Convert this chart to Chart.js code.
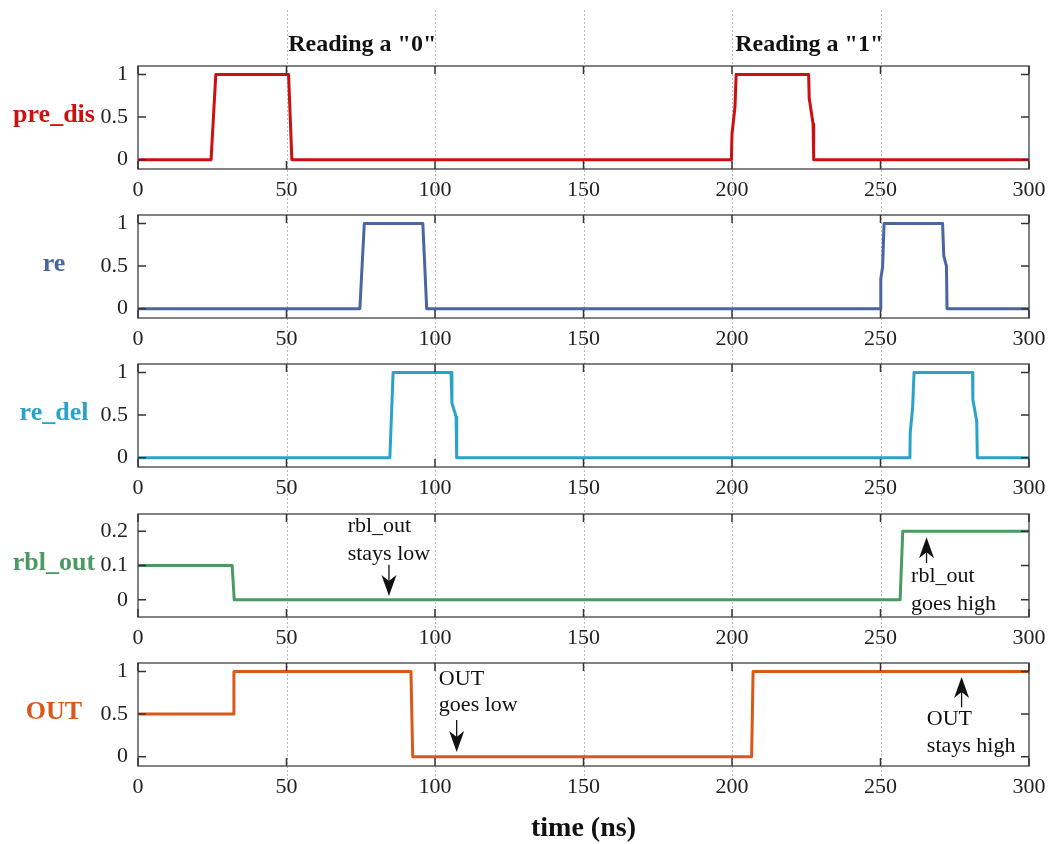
<!DOCTYPE html>
<html><head><meta charset="utf-8">
<script src="https://cdn.jsdelivr.net/npm/chart.js@4.4.1/dist/chart.umd.min.js"></script>
<style>
html,body{margin:0;padding:0;background:#fff;}
#wrap{position:relative;width:1049px;height:844px;overflow:hidden;}
#wrap canvas{position:absolute;left:0;top:0;}
</style></head>
<body><div id="wrap">
<canvas id="c0" width="1049" height="844"></canvas>
<canvas id="c1" width="1049" height="844"></canvas>
<canvas id="c2" width="1049" height="844"></canvas>
<canvas id="c3" width="1049" height="844"></canvas>
<canvas id="c4" width="1049" height="844"></canvas>
</div>
<script>
// ---- data ----
const xTicks = [0, 50, 100, 150, 200, 250, 300];
const gridTicks = [50, 100, 150, 200, 250];
const yTicksLogic = [0, 0.5, 1];
const yTicksRbl = [0, 0.1, 0.2];

const signalNames = ['pre_dis', 're', 're_del', 'rbl_out', 'OUT'];

const preDisT = [0, 24.6, 26.2, 50.7, 51.8, 199.8, 200.0, 201.0, 201.4, 225.8, 226.0, 227.3, 227.5, 300];
const preDisV = [0, 0, 1, 1, 0, 0, 0.3, 0.62, 1, 1, 0.72, 0.42, 0, 0];

const reT = [0, 74.7, 76.2, 95.9, 97.2, 250.0, 250.1, 250.7, 251.2, 270.9, 271.3, 272.2, 272.4, 300];
const reV = [0, 0, 1, 1, 0, 0, 0.35, 0.49, 1, 1, 0.62, 0.5, 0, 0];

const reDelT = [0, 84.8, 85.9, 105.4, 105.7, 107.1, 107.3, 259.9, 260.0, 260.8, 261.3, 281.0, 281.1, 282.4, 282.6, 300];
const reDelV = [0, 0, 1, 1, 0.64, 0.48, 0, 0, 0.29, 0.58, 1, 1, 0.68, 0.43, 0, 0];

const rblT = [0, 31.7, 32.4, 256.6, 257.5, 300];
const rblV = [0.1, 0.1, 0, 0, 0.2, 0.2];

const outT = [0, 32.0, 32.3, 91.9, 92.5, 206.6, 207.1, 300];
const outV = [0.5, 0.5, 1, 1, 0, 0, 1, 1];

const titleTexts = ['Reading a "0"', 'Reading a "1"'];
const xAxisLabel = 'time (ns)';

// ---- layout / style ----
const W = 1049, H = 844;
const PLOT_LEFT = 138, PLOT_RIGHT = 1029, PLOT_H = 103, X_AXIS_H = 40;
const plotTops = [66, 215, 364, 514, 663];
const colors = ['#cc1010', '#4a66a0', '#2aa3cb', '#4a9a62', '#d9581a'];
const SERIF = '"Liberation Serif", "DejaVu Serif", serif';

const panels = [
  { t: preDisT, v: preDisV, min: -0.11, max: 1.1, ticks: yTicksLogic },
  { t: reT, v: reV, min: -0.11, max: 1.1, ticks: yTicksLogic },
  { t: reDelT, v: reDelV, min: -0.11, max: 1.1, ticks: yTicksLogic },
  { t: rblT, v: rblV, min: -0.05, max: 0.25, ticks: yTicksRbl },
  { t: outT, v: outV, min: -0.11, max: 1.1, ticks: yTicksLogic }
];

// annotations: text lines at data coords, arrows (tail -> tip) in data coords
const annotations = {
  3: {
    texts: [
      { x: 70.6, y: 0.213, s: 'rbl_out' },
      { x: 70.6, y: 0.133, s: 'stays low' },
      { x: 260.3, y: 0.070, s: 'rbl_out' },
      { x: 260.3, y: -0.014, s: 'goes high' }
    ],
    arrows: [
      { x: 84.5, y0: 0.102, y1: 0.011 },
      { x: 265.5, y0: 0.107, y1: 0.182 }
    ]
  },
  4: {
    texts: [
      { x: 101.3, y: 0.91, s: 'OUT' },
      { x: 101.3, y: 0.605, s: 'goes low' },
      { x: 265.6, y: 0.44, s: 'OUT' },
      { x: 265.6, y: 0.12, s: 'stays high' }
    ],
    arrows: [
      { x: 107.3, y0: 0.43, y1: 0.055 },
      { x: 277.3, y0: 0.58, y1: 0.935 }
    ]
  }
};

function drawArrow(ctx, x, y0, y1) {
  const dir = y1 > y0 ? 1 : -1; // pixel direction of tip
  const headL = 21, headW = 7.5, notch = 6;
  ctx.save();
  ctx.strokeStyle = '#111';
  ctx.fillStyle = '#111';
  ctx.lineWidth = 1.3;
  ctx.beginPath();
  ctx.moveTo(x, y0);
  ctx.lineTo(x, y1 - dir * headL * 0.6);
  ctx.stroke();
  ctx.beginPath();
  ctx.moveTo(x, y1);
  ctx.lineTo(x - headW, y1 - dir * headL);
  ctx.lineTo(x, y1 - dir * (headL - notch));
  ctx.lineTo(x + headW, y1 - dir * headL);
  ctx.closePath();
  ctx.fill();
  ctx.restore();
}

const panelPlugin = {
  id: 'panel',
  beforeDatasetsDraw(chart, args, o) {
    if (!o.grid) return;
    const ctx = chart.ctx, xs = chart.scales.x;
    ctx.save();
    ctx.strokeStyle = '#b8b8b8';
    ctx.lineWidth = 1;
    ctx.setLineDash([2, 2]);
    gridTicks.forEach(v => {
      const px = Math.round(xs.getPixelForValue(v)) + 0.5;
      ctx.beginPath();
      ctx.moveTo(px, 10);
      ctx.lineTo(px, 782);
      ctx.stroke();
    });
    ctx.restore();
  },
  afterDatasetsDraw(chart, args, o) {
    const ctx = chart.ctx, a = chart.chartArea, xs = chart.scales.x, ys = chart.scales.y;
    ctx.save();
    // frame
    ctx.strokeStyle = '#5a5a5a';
    ctx.lineWidth = 1.5;
    ctx.strokeRect(a.left, a.top, a.right - a.left, a.bottom - a.top);
    // inward ticks
    ctx.strokeStyle = '#333';
    ctx.lineWidth = 1.5;
    const TL = 8;
    xTicks.forEach(v => {
      const px = xs.getPixelForValue(v);
      ctx.beginPath();
      ctx.moveTo(px, a.bottom); ctx.lineTo(px, a.bottom - TL);
      ctx.moveTo(px, a.top); ctx.lineTo(px, a.top + TL);
      ctx.stroke();
    });
    o.yticks.forEach(v => {
      const py = ys.getPixelForValue(v);
      ctx.beginPath();
      ctx.moveTo(a.left, py); ctx.lineTo(a.left + TL, py);
      ctx.moveTo(a.right, py); ctx.lineTo(a.right - TL, py);
      ctx.stroke();
    });
    // signal name label
    ctx.fillStyle = o.color;
    ctx.font = 'bold 26px ' + SERIF;
    ctx.textAlign = 'center';
    ctx.textBaseline = 'middle';
    ctx.fillText(o.name, 54, (a.top + a.bottom) / 2 - 2);
    // annotations
    const an = annotations[o.index];
    if (an) {
      ctx.fillStyle = '#111';
      ctx.font = '22px ' + SERIF;
      ctx.textAlign = 'left';
      ctx.textBaseline = 'middle';
      an.texts.forEach(t => ctx.fillText(t.s, xs.getPixelForValue(t.x), ys.getPixelForValue(t.y)));
      an.arrows.forEach(ar => drawArrow(ctx, xs.getPixelForValue(ar.x), ys.getPixelForValue(ar.y0), ys.getPixelForValue(ar.y1)));
    }
    // titles
    if (o.index === 0) {
      ctx.fillStyle = '#111';
      ctx.font = 'bold 24px ' + SERIF;
      ctx.textAlign = 'center';
      ctx.textBaseline = 'middle';
      ctx.fillText(titleTexts[0], xs.getPixelForValue(75.5), 45);
      ctx.fillText(titleTexts[1], xs.getPixelForValue(226), 45);
    }
    if (o.index === 4) {
      ctx.fillStyle = '#111';
      ctx.font = 'bold 28px ' + SERIF;
      ctx.textAlign = 'center';
      ctx.textBaseline = 'middle';
      ctx.fillText(xAxisLabel, xs.getPixelForValue(150), 829);
    }
    ctx.restore();
  }
};

panels.forEach((p, i) => {
  const top = plotTops[i];
  new Chart(document.getElementById('c' + i), {
    type: 'line',
    data: {
      datasets: [{
        label: signalNames[i],
        data: p.t.map((t, k) => ({ x: t, y: p.v[k] })),
        borderColor: colors[i],
        borderWidth: 3,
        pointRadius: 0,
        tension: 0,
        fill: false,
        borderJoinStyle: 'round'
      }]
    },
    options: {
      responsive: false,
      animation: false,
      devicePixelRatio: 1,
      events: [],
      layout: { padding: { top: top, bottom: H - top - PLOT_H - X_AXIS_H, left: 0, right: W - PLOT_RIGHT } },
      plugins: {
        legend: { display: false },
        tooltip: { enabled: false },
        panel: { index: i, name: signalNames[i], color: colors[i], yticks: p.ticks, grid: i === 0 }
      },
      scales: {
        x: {
          type: 'linear', min: 0, max: 300,
          afterBuildTicks: s => { s.ticks = xTicks.map(v => ({ value: v })); },
          afterFit: s => { s.height = X_AXIS_H; s.paddingLeft = 0; s.paddingRight = 0; },
          grid: { display: false, drawTicks: false },
          border: { display: false },
          ticks: { font: { family: SERIF, size: 22 }, color: '#222', padding: 8, maxRotation: 0, autoSkip: false, callback: v => String(v) }
        },
        y: {
          type: 'linear', min: p.min, max: p.max,
          afterBuildTicks: s => { s.ticks = p.ticks.map(v => ({ value: v })); },
          afterFit: s => { s.width = PLOT_LEFT; s.paddingTop = 0; s.paddingBottom = 0; },
          grid: { display: false, drawTicks: false },
          border: { display: false },
          ticks: { font: { family: SERIF, size: 22 }, color: '#222', padding: 10, autoSkip: false, callback: v => String(v) }
        }
      }
    },
    plugins: [panelPlugin]
  });
});
</script>
</body></html>
